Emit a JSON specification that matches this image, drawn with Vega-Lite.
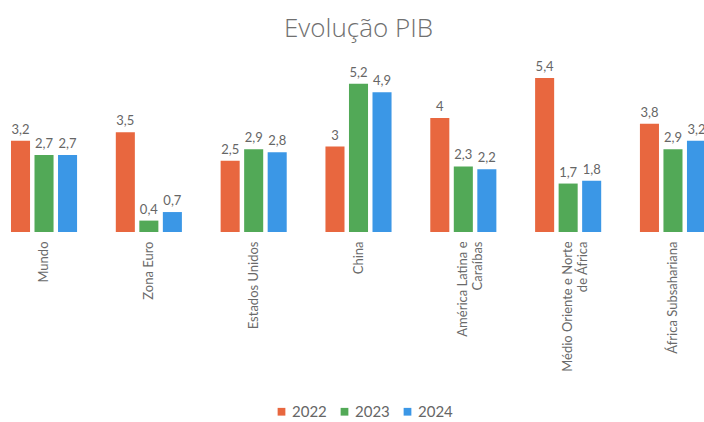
{
  "$schema": "https://vega.github.io/schema/vega-lite/v6.json",
  "autosize": {"type": "none"},
  "width": 717,
  "height": 171,
  "padding": {"left": 0, "top": 61, "right": 0, "bottom": 190},
  "background": "white",
  "title": {
    "text": "Evolução PIB",
    "anchor": "middle",
    "font": "Open Sans",
    "fontSize": 26,
    "fontWeight": 300,
    "color": "#707070",
    "offset": 19
  },
  "data": {
    "values": [
      {"regiao": "Mundo", "ano": "2022", "valor": 3.2},
      {"regiao": "Mundo", "ano": "2023", "valor": 2.7},
      {"regiao": "Mundo", "ano": "2024", "valor": 2.7},
      {"regiao": "Zona Euro", "ano": "2022", "valor": 3.5},
      {"regiao": "Zona Euro", "ano": "2023", "valor": 0.4},
      {"regiao": "Zona Euro", "ano": "2024", "valor": 0.7},
      {"regiao": "Estados Unidos", "ano": "2022", "valor": 2.5},
      {"regiao": "Estados Unidos", "ano": "2023", "valor": 2.9},
      {"regiao": "Estados Unidos", "ano": "2024", "valor": 2.8},
      {"regiao": "China", "ano": "2022", "valor": 3},
      {"regiao": "China", "ano": "2023", "valor": 5.2},
      {"regiao": "China", "ano": "2024", "valor": 4.9},
      {"regiao": "América Latina e Caraíbas", "ano": "2022", "valor": 4},
      {"regiao": "América Latina e Caraíbas", "ano": "2023", "valor": 2.3},
      {"regiao": "América Latina e Caraíbas", "ano": "2024", "valor": 2.2},
      {"regiao": "Médio Oriente e Norte de África", "ano": "2022", "valor": 5.4},
      {"regiao": "Médio Oriente e Norte de África", "ano": "2023", "valor": 1.7},
      {"regiao": "Médio Oriente e Norte de África", "ano": "2024", "valor": 1.8},
      {"regiao": "África Subsahariana", "ano": "2022", "valor": 3.8},
      {"regiao": "África Subsahariana", "ano": "2023", "valor": 2.9},
      {"regiao": "África Subsahariana", "ano": "2024", "valor": 3.2}
    ]
  },
  "encoding": {
    "x": {
      "field": "regiao",
      "type": "nominal",
      "sort": null,
      "scale": {"paddingInner": 0.16, "paddingOuter": 0},
      "axis": {
        "title": null,
        "domain": false,
        "ticks": false,
        "labelAngle": 270,
        "labelAlign": "right",
        "labelBaseline": "middle",
        "labelPadding": 9,
        "labelFont": "Lato",
        "labelFontSize": 13,
        "labelColor": "#6a6a6a",
        "labelLimit": 0,
        "labelExpr": "datum.value == 'América Latina e Caraíbas' ? ['América Latina e', 'Caraíbas\u00a0\u00a0\u00a0\u00a0\u00a0\u00a0\u00a0'] : datum.value == 'Médio Oriente e Norte de África' ? ['Médio Oriente e Norte', 'de África\u00a0\u00a0\u00a0\u00a0\u00a0\u00a0\u00a0\u00a0\u00a0\u00a0'] : datum.value"
      }
    },
    "xOffset": {
      "field": "ano",
      "type": "nominal",
      "scale": {"paddingInner": 0.19, "paddingOuter": 0.467}
    },
    "y": {
      "field": "valor",
      "type": "quantitative",
      "scale": {"domain": [0, 6], "nice": false},
      "axis": null
    }
  },
  "layer": [
    {
      "mark": {"type": "bar"},
      "encoding": {
        "color": {
          "field": "ano",
          "type": "nominal",
          "scale": {"domain": ["2022", "2023", "2024"], "range": ["#E8673F", "#52A957", "#3B97E6"]},
          "legend": {
            "title": null,
            "orient": "none",
            "legendX": 274,
            "legendY": 343,
            "direction": "horizontal",
            "symbolType": "square",
            "symbolSize": 60,
            "symbolStrokeWidth": 0,
            "labelFont": "Lato",
            "labelFontSize": 15,
            "labelColor": "#666666",
            "columnPadding": 10,
            "labelOffset": 3
          }
        }
      }
    },
    {
      "mark": {"type": "text", "baseline": "bottom", "dy": -4, "font": "Lato", "fontSize": 13, "color": "#666666"},
      "encoding": {
        "text": {"field": "valor", "type": "quantitative", "format": ".1~f"}
      }
    }
  ],
  "config": {
    "view": {"stroke": null},
    "locale": {"number": {"decimal": ",", "thousands": ".", "grouping": [3], "currency": ["", " €"]}}
  }
}
